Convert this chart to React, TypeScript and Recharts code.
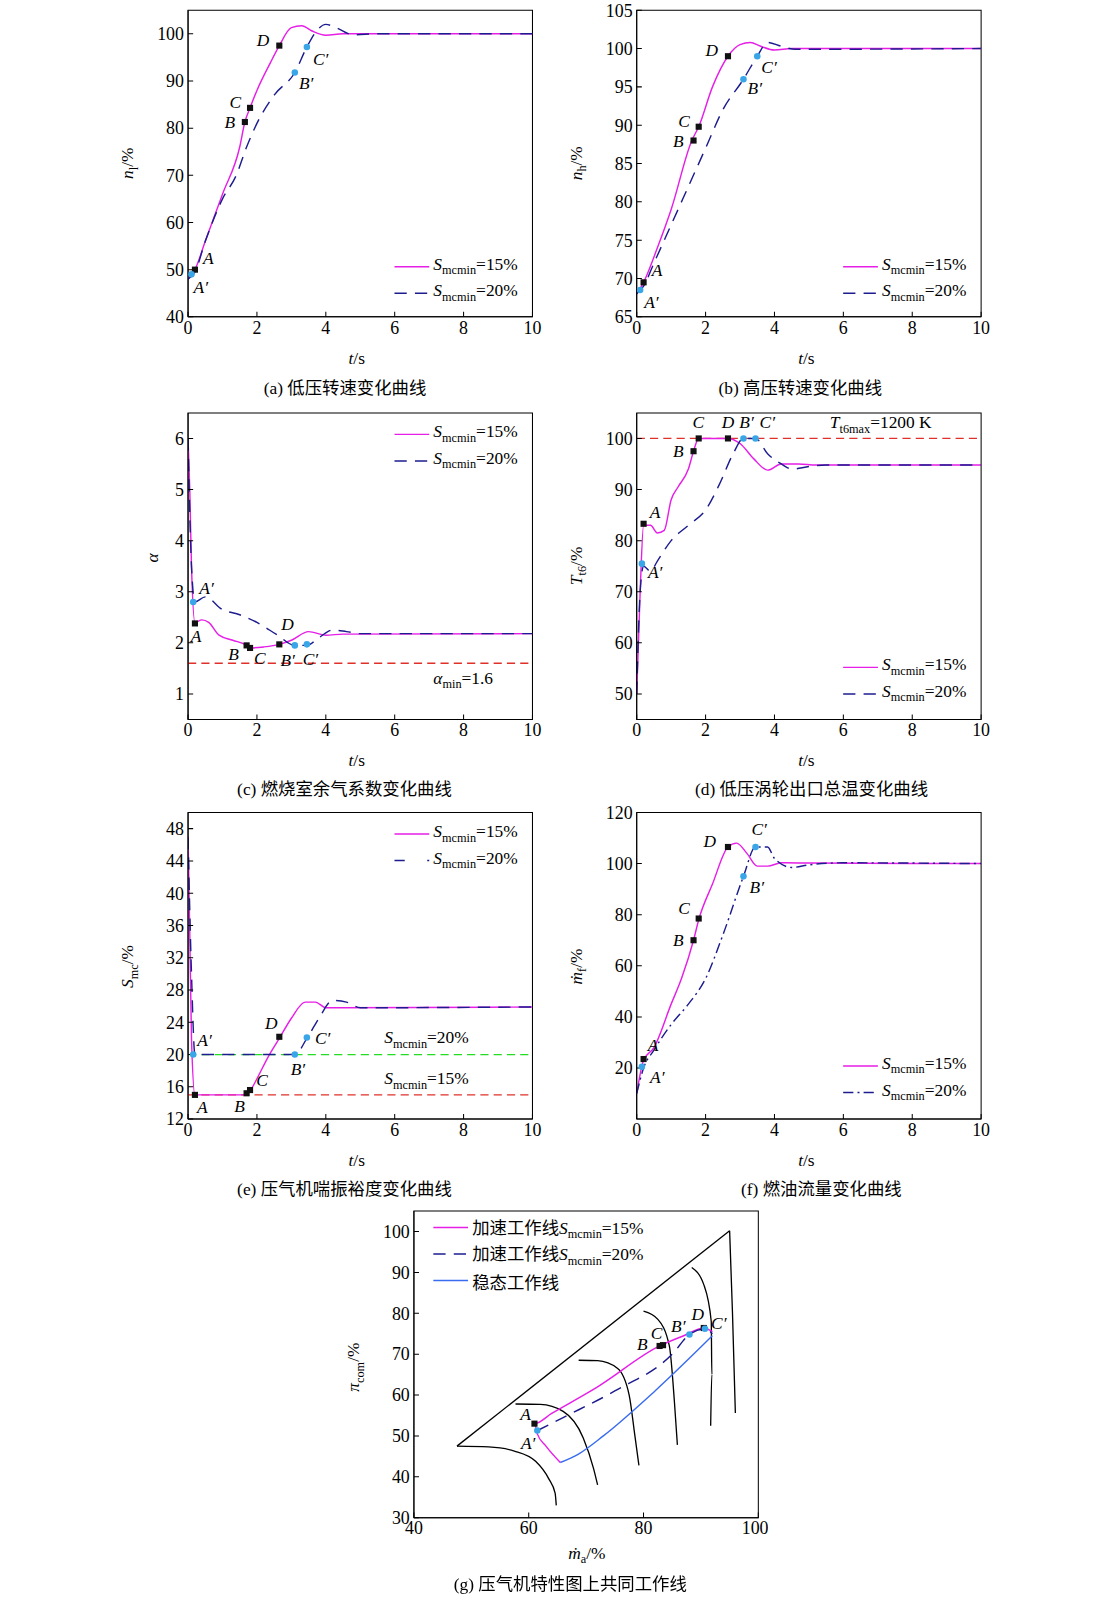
import React from "react";
import { ComposedChart, Line, Scatter, XAxis, YAxis, ReferenceLine, ReferenceArea } from "recharts";

const MAG = "#e61ee6";
const NAVY = "#1c1c8f";
const BLUE = "#3a6cf0";
const RED = "#e0302a";
const GREEN = "#22dd22";
const SQ = "#111111";
const CIR = "#3aa6e8";
const FONT = "'Liberation Serif', 'Times New Roman', serif";
const DASH = "12 8";

const timeTicks = [0, 2, 4, 6, 8, 10];

// (a) low-pressure speed
const nlSolid = [
  { x: 0, y: 48 }, { x: 0.2, y: 50 }, { x: 0.5, y: 56 }, { x: 1, y: 66 }, { x: 1.5, y: 76 },
  { x: 1.65, y: 81.3 }, { x: 1.8, y: 84.3 }, { x: 2, y: 88 }, { x: 2.4, y: 94 }, { x: 2.65, y: 97.5 },
  { x: 3, y: 101.3 }, { x: 3.3, y: 101.7 }, { x: 3.6, y: 100.6 }, { x: 4, y: 99.7 }, { x: 4.5, y: 100 }, { x: 10, y: 100 },
];
const nlDash = [
  { x: 0, y: 48 }, { x: 0.2, y: 49.5 }, { x: 0.5, y: 56 }, { x: 1, y: 65 }, { x: 1.4, y: 70 },
  { x: 1.7, y: 76 }, { x: 2, y: 81 }, { x: 2.5, y: 87 }, { x: 3.1, y: 91.8 }, { x: 3.45, y: 97.2 },
  { x: 3.7, y: 100.3 }, { x: 4, y: 102 }, { x: 4.3, y: 101.3 }, { x: 4.8, y: 99.8 }, { x: 5.5, y: 100 }, { x: 10, y: 100 },
];
const nlSq = [{ x: 0.2, y: 50, n: "A" }, { x: 1.65, y: 81.3, n: "B" }, { x: 1.8, y: 84.3, n: "C" }, { x: 2.65, y: 97.5, n: "D" }];
const nlCi = [{ x: 0.1, y: 49, n: "A′" }, { x: 3.1, y: 91.8, n: "B′" }, { x: 3.45, y: 97.2, n: "C′" }];

// (b) high-pressure speed
const nhSolid = [
  { x: 0, y: 68 }, { x: 0.2, y: 69.5 }, { x: 0.6, y: 74 }, { x: 1, y: 79 }, { x: 1.6, y: 88 },
  { x: 1.8, y: 89.8 }, { x: 2.2, y: 95 }, { x: 2.65, y: 99 }, { x: 3, y: 100.5 }, { x: 3.3, y: 100.8 },
  { x: 3.6, y: 100.3 }, { x: 4, y: 99.8 }, { x: 4.5, y: 100 }, { x: 10, y: 100 },
];
const nhDash = [
  { x: 0, y: 68 }, { x: 0.2, y: 69 }, { x: 0.5, y: 72 }, { x: 1, y: 77 }, { x: 1.5, y: 82 },
  { x: 2, y: 87 }, { x: 2.5, y: 92 }, { x: 3.1, y: 96 }, { x: 3.5, y: 99 }, { x: 3.8, y: 100.8 },
  { x: 4.2, y: 100.3 }, { x: 4.6, y: 99.9 }, { x: 10, y: 100 },
];
const nhSq = [{ x: 0.2, y: 69.5, n: "A" }, { x: 1.65, y: 88, n: "B" }, { x: 1.8, y: 89.8, n: "C" }, { x: 2.65, y: 99, n: "D" }];
const nhCi = [{ x: 0.1, y: 68.5, n: "A′" }, { x: 3.1, y: 96, n: "B′" }, { x: 3.5, y: 99, n: "C′" }];

// (c) excess air coefficient
const alSolid = [
  { x: 0, y: 6 }, { x: 0.05, y: 5 }, { x: 0.1, y: 3.5 }, { x: 0.2, y: 2.4 }, { x: 0.4, y: 2.45 },
  { x: 0.6, y: 2.4 }, { x: 0.9, y: 2.15 }, { x: 1.3, y: 2.05 }, { x: 1.7, y: 1.95 }, { x: 1.8, y: 1.9 },
  { x: 2.2, y: 1.92 }, { x: 2.65, y: 1.97 }, { x: 3, y: 2.05 }, { x: 3.5, y: 2.22 }, { x: 4, y: 2.15 },
  { x: 4.5, y: 2.17 }, { x: 10, y: 2.18 },
];
const alDash = [
  { x: 0, y: 6 }, { x: 0.1, y: 3.5 }, { x: 0.2, y: 2.8 }, { x: 0.5, y: 2.9 }, { x: 1, y: 2.65 },
  { x: 1.5, y: 2.55 }, { x: 2, y: 2.4 }, { x: 2.6, y: 2.15 }, { x: 3.1, y: 1.95 }, { x: 3.45, y: 1.95 },
  { x: 3.8, y: 2.1 }, { x: 4.2, y: 2.25 }, { x: 4.6, y: 2.22 }, { x: 5, y: 2.18 }, { x: 10, y: 2.18 },
];
const alSq = [{ x: 0.2, y: 2.38, n: "A" }, { x: 1.7, y: 1.95, n: "B" }, { x: 1.8, y: 1.9, n: "C" }, { x: 2.65, y: 1.97, n: "D" }];
const alCi = [{ x: 0.15, y: 2.8, n: "A′" }, { x: 3.1, y: 1.95, n: "B′" }, { x: 3.45, y: 1.97, n: "C′" }];

// (d) LPT outlet temperature
const ttSolid = [
  { x: 0, y: 50 }, { x: 0.1, y: 70 }, { x: 0.2, y: 83 }, { x: 0.4, y: 83 }, { x: 0.6, y: 81.5 },
  { x: 0.8, y: 82 }, { x: 1, y: 88 }, { x: 1.2, y: 90.5 }, { x: 1.5, y: 94 }, { x: 1.65, y: 97.5 },
  { x: 1.8, y: 100 }, { x: 2.65, y: 100 }, { x: 3, y: 99 }, { x: 3.4, y: 96 }, { x: 3.8, y: 93.8 },
  { x: 4.2, y: 95 }, { x: 4.7, y: 95 }, { x: 5.2, y: 94.8 }, { x: 10, y: 94.8 },
];
const ttDash = [
  { x: 0, y: 50 }, { x: 0.1, y: 70 }, { x: 0.2, y: 75 }, { x: 0.4, y: 74 }, { x: 0.6, y: 76 },
  { x: 1, y: 80 }, { x: 1.5, y: 83 }, { x: 2, y: 86 }, { x: 2.4, y: 91 }, { x: 2.8, y: 97 },
  { x: 3.1, y: 100 }, { x: 3.45, y: 100 }, { x: 3.8, y: 97 }, { x: 4.2, y: 95 }, { x: 4.5, y: 94 },
  { x: 5, y: 94.5 }, { x: 5.5, y: 94.8 }, { x: 10, y: 94.8 },
];
const ttSq = [{ x: 0.2, y: 83.3, n: "A" }, { x: 1.65, y: 97.5, n: "B" }, { x: 1.8, y: 100, n: "C" }, { x: 2.65, y: 100, n: "D" }];
const ttCi = [{ x: 0.15, y: 75.5, n: "A′" }, { x: 3.1, y: 100, n: "B′" }, { x: 3.45, y: 100, n: "C′" }];

// (e) surge margin
const smSolid = [
  { x: 0, y: 47 }, { x: 0.05, y: 35 }, { x: 0.1, y: 22 }, { x: 0.2, y: 15 }, { x: 1.6, y: 15 },
  { x: 1.8, y: 15.5 }, { x: 2, y: 17 }, { x: 2.3, y: 19.5 }, { x: 2.65, y: 22 }, { x: 3, y: 24.5 },
  { x: 3.4, y: 26.5 }, { x: 3.7, y: 26.5 }, { x: 4, y: 25.8 }, { x: 4.5, y: 25.8 }, { x: 10, y: 25.9 },
];
const smDash = [
  { x: 0, y: 47 }, { x: 0.1, y: 30 }, { x: 0.2, y: 20 }, { x: 3.1, y: 20 }, { x: 3.45, y: 22 },
  { x: 3.8, y: 24.5 }, { x: 4.2, y: 26.7 }, { x: 4.6, y: 26.5 }, { x: 5, y: 25.8 }, { x: 10, y: 25.9 },
];
const smSq = [{ x: 0.2, y: 15, n: "A" }, { x: 1.7, y: 15.2, n: "B" }, { x: 1.8, y: 15.6, n: "C" }, { x: 2.65, y: 22.2, n: "D" }];
const smCi = [{ x: 0.15, y: 20, n: "A′" }, { x: 3.1, y: 20, n: "B′" }, { x: 3.45, y: 22.1, n: "C′" }];

// (f) fuel flow
const mfSolid = [
  { x: 0, y: 10 }, { x: 0.2, y: 23 }, { x: 0.5, y: 28 }, { x: 1, y: 45 }, { x: 1.3, y: 55 },
  { x: 1.65, y: 70 }, { x: 1.8, y: 78 }, { x: 2.2, y: 92 }, { x: 2.65, y: 106.5 }, { x: 2.9, y: 108 },
  { x: 3.2, y: 104 }, { x: 3.5, y: 99 }, { x: 3.8, y: 99 }, { x: 4.2, y: 100.3 }, { x: 5, y: 100.2 }, { x: 10, y: 100 },
];
const mfDash = [
  { x: 0, y: 10 }, { x: 0.2, y: 20 }, { x: 0.5, y: 27 }, { x: 1, y: 37 }, { x: 1.5, y: 45 },
  { x: 2, y: 55 }, { x: 2.5, y: 72 }, { x: 3.1, y: 95 }, { x: 3.45, y: 106.5 }, { x: 3.8, y: 106.5 },
  { x: 4, y: 102 }, { x: 4.5, y: 98.5 }, { x: 5, y: 99.5 }, { x: 6, y: 100.3 }, { x: 10, y: 100 },
];
const mfSq = [{ x: 0.2, y: 23.5, n: "A" }, { x: 1.65, y: 70, n: "B" }, { x: 1.8, y: 78.5, n: "C" }, { x: 2.65, y: 106.5, n: "D" }];
const mfCi = [{ x: 0.15, y: 20.5, n: "A′" }, { x: 3.1, y: 95, n: "B′" }, { x: 3.45, y: 106.5, n: "C′" }];

// (g) compressor map
const surgeLine = [{ x: 47.5, y: 47.5 }, { x: 95, y: 100.2 }];
const speed1 = [{ x: 95, y: 100.2 }, { x: 95.5, y: 80 }, { x: 96, y: 55.6 }];
const speed2 = [{ x: 88.4, y: 91.2 }, { x: 90.5, y: 87 }, { x: 91.8, y: 78 }, { x: 91.9, y: 65 }, { x: 91.7, y: 52.5 }];
const speed3 = [{ x: 80, y: 80.5 }, { x: 82.5, y: 78.5 }, { x: 84.5, y: 72 }, { x: 85.4, y: 58 }, { x: 85.9, y: 47.8 }];
const speed4 = [{ x: 68.7, y: 68.5 }, { x: 72, y: 68.4 }, { x: 75.5, y: 66.5 }, { x: 77.5, y: 60 }, { x: 78.5, y: 50 }, { x: 79.2, y: 42.8 }];
const speed5 = [{ x: 57.7, y: 57.8 }, { x: 62, y: 57.7 }, { x: 66, y: 56 }, { x: 69.5, y: 49.5 }, { x: 71.3, y: 42 }, { x: 72, y: 38 }];
const speed6 = [{ x: 47.5, y: 47.5 }, { x: 53, y: 47.3 }, { x: 57.5, y: 46.3 }, { x: 61.2, y: 43.8 }, { x: 63.5, y: 39.5 }, { x: 64.6, y: 36 }, { x: 64.8, y: 33 }];
const steadyLine = [{ x: 65.5, y: 43.5 }, { x: 68.6, y: 45.5 }, { x: 73, y: 50 }, { x: 82, y: 61 }, { x: 92, y: 74.5 }];
const accel15 = [
  { x: 65.5, y: 43.5 }, { x: 63, y: 47.5 }, { x: 61.5, y: 50.5 }, { x: 61, y: 53 }, { x: 64, y: 55.5 },
  { x: 72, y: 62 }, { x: 82.8, y: 72 }, { x: 87, y: 74.5 }, { x: 90.5, y: 76.4 }, { x: 92, y: 75.5 },
];
const accel20 = [
  { x: 61.5, y: 51.3 }, { x: 66, y: 54.5 }, { x: 75, y: 61 }, { x: 85, y: 70 }, { x: 88, y: 74.8 },
  { x: 90.7, y: 76.2 }, { x: 92, y: 75 },
];
const mapSq = [{ x: 61, y: 53, n: "A" }, { x: 82.8, y: 72, n: "B" }, { x: 83.4, y: 72.2, n: "C" }, { x: 90.5, y: 76.4, n: "D" }];
const mapCi = [{ x: 61.5, y: 51.3, n: "A′" }, { x: 88, y: 74.8, n: "B′" }, { x: 90.7, y: 76.2, n: "C′" }];

// label offsets (px) for point letters, per panel
const shifts: Record<string, Record<string, [number, number]>> = {
  a: { A: [8, -6], B: [-20, 6], C: [-20, 0], D: [-22, 0], "A′": [2, 18], "B′": [4, 16], "C′": [6, 18] },
  b: { A: [8, -6], B: [-20, 6], C: [-20, 0], D: [-22, 0], "A′": [4, 18], "B′": [4, 14], "C′": [4, 16] },
  c: { A: [-4, 18], B: [-18, 14], C: [4, 16], D: [2, -14], "A′": [6, -8], "B′": [-14, 20], "C′": [-4, 20] },
  d: { A: [6, -6], B: [-20, 6], C: [-6, -10], D: [-6, -10], "A′": [6, 14], "B′": [-4, -10], "C′": [4, -10] },
  e: { A: [2, 18], B: [-12, 18], C: [6, -4], D: [-14, -8], "A′": [4, -8], "B′": [-4, 20], "C′": [8, 6] },
  f: { A: [4, -8], B: [-20, 6], C: [-20, -4], D: [-24, 0], "A′": [8, 16], "B′": [6, 16], "C′": [-4, -12] },
  g: { A: [-14, -4], B: [-22, 4], C: [-12, -6], D: [-12, -8], "A′": [-16, 18], "B′": [-18, -2], "C′": [6, 0] },
};

const sqShape = (panel: string) => (p: any) => {
  const [dx, dy] = shifts[panel][p.payload.n] || [6, -6];
  return (
    <g>
      <rect x={p.cx - 3} y={p.cy - 3} width={6} height={6} fill={SQ} />
      <text x={p.cx + dx} y={p.cy + dy} fontFamily={FONT} fontStyle="italic" fontSize={17}>{p.payload.n}</text>
    </g>
  );
};
const ciShape = (panel: string) => (p: any) => {
  const [dx, dy] = shifts[panel][p.payload.n] || [6, -6];
  return (
    <g>
      <circle cx={p.cx} cy={p.cy} r={3.2} fill={CIR} />
      <text x={p.cx + dx} y={p.cy + dy} fontFamily={FONT} fontStyle="italic" fontSize={17}>{p.payload.n}</text>
    </g>
  );
};

type Ser = { data: { x: number; y: number }[]; color: string; dash?: string; width?: number };

function Panel(props: {
  id: string; left: number; top: number; xDomain: [number, number]; xTicks: number[];
  yDomain: [number, number]; yTicks: number[]; series: Ser[]; sq: any[]; ci: any[];
  refs?: { y: number; color: string }[];
}) {
  const { id, left, top } = props;
  const tick = { fill: "#000", fontSize: 17.5, fontFamily: FONT };
  return (
    <div style={{ position: "absolute", left: left - 50, top: top - 10 }}>
      <ComposedChart width={397} height={340} margin={{ top: 10, right: 10, left: 10, bottom: 0 }}>
        <XAxis xAxisId="b" type="number" dataKey="x" domain={props.xDomain} ticks={props.xTicks}
          allowDataOverflow height={30} stroke="#000" tick={tick} tickSize={-5} tickMargin={9} />
        <YAxis yAxisId="l" type="number" domain={props.yDomain} ticks={props.yTicks}
          allowDataOverflow width={40} stroke="#000" tick={tick} tickSize={-5} tickMargin={9} />
        <ReferenceArea xAxisId="b" yAxisId="l" x1={props.xDomain[0]} x2={props.xDomain[1]}
          y1={props.yDomain[0]} y2={props.yDomain[1]} fill="none" stroke="#000" strokeWidth={1} fillOpacity={0} />
        {(props.refs || []).map((r, i) => (
          <ReferenceLine key={i} xAxisId="b" yAxisId="l" y={r.y} stroke={r.color} strokeDasharray="8 5" strokeWidth={1.3} />
        ))}
        {props.series.map((s, i) => (
          <Line key={i} xAxisId="b" yAxisId="l" data={s.data} dataKey="y" type="monotone"
            stroke={s.color} strokeWidth={s.width || 1.4} strokeDasharray={s.dash}
            dot={false} isAnimationActive={false} />
        ))}
        <Scatter xAxisId="b" yAxisId="l" data={props.sq} dataKey="y" shape={sqShape(id)} isAnimationActive={false} />
        <Scatter xAxisId="b" yAxisId="l" data={props.ci} dataKey="y" shape={ciShape(id)} isAnimationActive={false} />
      </ComposedChart>
    </div>
  );
}

const abs = (l: number, t: number, extra: React.CSSProperties = {}): React.CSSProperties => ({
  position: "absolute", left: l, top: t, fontFamily: FONT, fontSize: 17, whiteSpace: "nowrap", ...extra,
});

function SLabel({ v }: { v: string }) {
  return <span><i>S</i><sub style={{ fontSize: 12 }}>mcmin</sub>={v}</span>;
}

function Legend({ l, t, dash2 }: { l: number; t: number; dash2: string }) {
  return (
    <div style={abs(l, t)}>
      <div style={{ display: "flex", alignItems: "center", height: 26 }}>
        <svg width={40} height={10}><line x1={2} y1={5} x2={36} y2={5} stroke={MAG} strokeWidth={1.4} /></svg>
        <SLabel v="15%" />
      </div>
      <div style={{ display: "flex", alignItems: "center", height: 26 }}>
        <svg width={40} height={10}><line x1={2} y1={5} x2={36} y2={5} stroke={NAVY} strokeWidth={1.4} strokeDasharray={dash2} /></svg>
        <SLabel v="20%" />
      </div>
    </div>
  );
}

function YLab({ cx, cy, children }: { cx: number; cy: number; children: React.ReactNode }) {
  return (
    <div style={abs(cx - 60, cy - 12, { width: 120, textAlign: "center", transform: "rotate(-90deg)" })}>{children}</div>
  );
}

const tLab = (l: number, t: number) => <div style={abs(l, t)}><i>t</i>/s</div>;

export default function App() {
  const solid = (d: any): Ser => ({ data: d, color: MAG });
  const dash = (d: any, dd = DASH): Ser => ({ data: d, color: NAVY, dash: dd });
  return (
    <div style={{ position: "absolute", left: 0, top: 0, width: 1080, height: 1560, background: "#fff", transform: "scale(1.022)", transformOrigin: "0 0" }}>
      <Panel id="a" left={184} top={10} xDomain={[0, 10]} xTicks={timeTicks} yDomain={[40, 105]}
        yTicks={[40, 50, 60, 70, 80, 90, 100]} series={[solid(nlSolid), dash(nlDash)]} sq={nlSq} ci={nlCi} />
      <Panel id="b" left={623} top={10} xDomain={[0, 10]} xTicks={timeTicks} yDomain={[65, 105]}
        yTicks={[65, 70, 75, 80, 85, 90, 95, 100, 105]} series={[solid(nhSolid), dash(nhDash)]} sq={nhSq} ci={nhCi} />
      <Panel id="c" left={184} top={404} xDomain={[0, 10]} xTicks={timeTicks} yDomain={[0.5, 6.5]}
        yTicks={[1, 2, 3, 4, 5, 6]} series={[solid(alSolid), dash(alDash)]} sq={alSq} ci={alCi}
        refs={[{ y: 1.6, color: RED }]} />
      <Panel id="d" left={623} top={404} xDomain={[0, 10]} xTicks={timeTicks} yDomain={[45, 105]}
        yTicks={[50, 60, 70, 80, 90, 100]} series={[solid(ttSolid), dash(ttDash)]} sq={ttSq} ci={ttCi}
        refs={[{ y: 100, color: RED }]} />
      <Panel id="e" left={184} top={795} xDomain={[0, 10]} xTicks={timeTicks} yDomain={[12, 50]}
        yTicks={[12, 16, 20, 24, 28, 32, 36, 40, 44, 48]} series={[solid(smSolid), dash(smDash)]} sq={smSq} ci={smCi}
        refs={[{ y: 20, color: GREEN }, { y: 15, color: RED }]} />
      <Panel id="f" left={623} top={795} xDomain={[0, 10]} xTicks={timeTicks} yDomain={[0, 120]}
        yTicks={[20, 40, 60, 80, 100, 120]} series={[solid(mfSolid), dash(mfDash, "10 4 2 4")]} sq={mfSq} ci={mfCi} />
      <Panel id="g" left={405} top={1185} xDomain={[40, 100]} xTicks={[40, 60, 80, 100]} yDomain={[30, 105]}
        yTicks={[30, 40, 50, 60, 70, 80, 90, 100]}
        series={[
          ...[surgeLine, speed1, speed2, speed3, speed4, speed5, speed6].map((d) => ({ data: d, color: "#000", width: 1.3 })),
          { data: steadyLine, color: BLUE }, solid(accel15), dash(accel20),
        ]}
        sq={mapSq} ci={mapCi} />

      {/* legends */}
      <Legend l={384} t={248} dash2={DASH} />
      <Legend l={823} t={248} dash2={DASH} />
      <Legend l={384} t={412} dash2={DASH} />
      <Legend l={823} t={640} dash2={DASH} />
      <Legend l={384} t={803} dash2="10 22" />
      <Legend l={823} t={1030} dash2="10 4 2 4" />
      <div style={abs(422, 1188)}>
        {[
          [MAG, undefined, <span>加速工作线<i>S</i><sub style={{ fontSize: 12 }}>mcmin</sub>=15%</span>],
          [NAVY, DASH, <span>加速工作线<i>S</i><sub style={{ fontSize: 12 }}>mcmin</sub>=20%</span>],
          [BLUE, undefined, <span>稳态工作线</span>],
        ].map((r: any, i) => (
          <div key={i} style={{ display: "flex", alignItems: "center", height: 26, fontFamily: FONT + ", 'Noto Sans CJK SC'" }}>
            <svg width={40} height={10}><line x1={2} y1={5} x2={36} y2={5} stroke={r[0]} strokeWidth={1.4} strokeDasharray={r[1]} /></svg>
            {r[2]}
          </div>
        ))}
      </div>

      {/* annotations */}
      <div style={abs(424, 654)}><i>α</i><sub style={{ fontSize: 12 }}>min</sub>=1.6</div>
      <div style={abs(812, 404)}><i>T</i><sub style={{ fontSize: 12 }}>t6max</sub>=1200 K</div>
      <div style={abs(376, 1006)}><SLabel v="20%" /></div>
      <div style={abs(376, 1046)}><SLabel v="15%" /></div>

      {/* axis labels */}
      {tLab(341, 341)}{tLab(781, 341)}{tLab(341, 735)}{tLab(781, 735)}{tLab(341, 1126)}{tLab(781, 1126)}
      <div style={abs(556, 1510)}><i>ṁ</i><sub style={{ fontSize: 12 }}>a</sub>/%</div>
      <YLab cx={127} cy={160}><i>n</i><sub style={{ fontSize: 12 }}>l</sub>/%</YLab>
      <YLab cx={566} cy={160}><i>n</i><sub style={{ fontSize: 12 }}>h</sub>/%</YLab>
      <YLab cx={150} cy={548}><i>α</i></YLab>
      <YLab cx={566} cy={554}><i>T</i><sub style={{ fontSize: 12 }}>t6</sub>/%</YLab>
      <YLab cx={127} cy={946}><i>S</i><sub style={{ fontSize: 12 }}>mc</sub>/%</YLab>
      <YLab cx={566} cy={946}><i>ṁ</i><sub style={{ fontSize: 12 }}>f</sub>/%</YLab>
      <YLab cx={348} cy={1338}><i>π</i><sub style={{ fontSize: 12 }}>com</sub>/%</YLab>

      {/* captions */}
      {[
        [258, 366, "(a) 低压转速变化曲线"], [703, 366, "(b) 高压转速变化曲线"],
        [232, 758, "(c) 燃烧室余气系数变化曲线"], [680, 758, "(d) 低压涡轮出口总温变化曲线"],
        [232, 1149, "(e) 压气机喘振裕度变化曲线"], [725, 1149, "(f) 燃油流量变化曲线"],
        [444, 1536, "(g) 压气机特性图上共同工作线"],
      ].map((c: any, i) => (
        <div key={i} style={abs(c[0], c[1], { fontFamily: FONT + ", 'Noto Sans CJK SC'" })}>{c[2]}</div>
      ))}
    </div>
  );
}
